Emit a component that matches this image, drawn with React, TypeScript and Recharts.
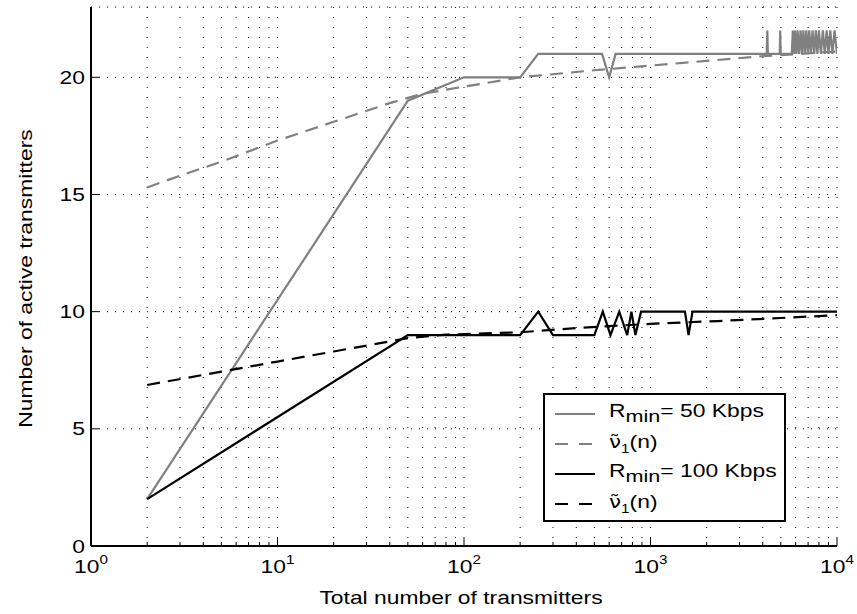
import React from 'react';
import { LineChart, Line, CartesianGrid, XAxis, YAxis, Legend } from 'recharts';

// values
const graySolidN = [2, 50, 100, 200, 250, 550, 600, 650, 4200, 4230, 4260, 4930, 4960, 4990,
  5720, 5800, 5870, 5950, 6050, 6150, 6250, 6380, 6480, 6600, 6720, 6850, 6980, 7100, 7250,
  7400, 7550, 7700, 7850, 8000, 8200, 8400, 8600, 8800, 9000, 9200, 9450, 9700, 10000];
const graySolidV = [2, 19, 20, 20, 21, 21, 20, 21, 21, 22, 21, 21, 22, 21,
  21, 22, 21, 22, 21, 22, 21, 22, 21, 22, 21, 22, 21, 22, 21,
  22, 21, 22, 21, 22, 21, 22, 21, 22, 21, 22, 21, 22, 21];

const grayDashN = [2, 3, 5, 10, 20, 40, 60, 100, 200, 500, 1000, 2000, 4000, 10000];
const grayDashV = [15.3, 15.8, 16.4, 17.3, 18.1, 18.9, 19.3, 19.6, 20.0, 20.3, 20.5, 20.7, 20.9, 21.1];

const blackSolidN = [2, 50, 200, 250, 300, 500, 555, 610, 680, 750, 790, 830, 890, 1530, 1600, 1680, 10000];
const blackSolidV = [2, 9, 9, 10, 9, 9, 10, 9, 10, 9, 10, 9, 10, 10, 9, 10, 10];

const blackDashN = [2, 5, 10, 20, 50, 80, 200, 400, 1000, 2300, 5000, 10000];
const blackDashV = [6.87, 7.44, 7.87, 8.3, 8.87, 9.02, 9.12, 9.3, 9.48, 9.6, 9.73, 9.85];

const xTicks = [1, 2, 3, 4, 5, 6, 7, 8, 9, 10, 20, 30, 40, 50, 60, 70, 80, 90, 100, 200, 300, 400, 500,
  600, 700, 800, 900, 1000, 2000, 3000, 4000, 5000, 6000, 7000, 8000, 9000, 10000];
const yTicks = [0, 5, 10, 15, 20];

const toRows = (ns: number[], vs: number[]) => ns.map((n, i) => ({ n, v: vs[i] }));
const graySolid = toRows(graySolidN, graySolidV);
const grayDash = toRows(grayDashN, grayDashV);
const blackSolid = toRows(blackSolidN, blackSolidV);
const blackDash = toRows(blackDashN, blackDashV);

const FONT = '"Liberation Sans", Arial, Helvetica, sans-serif';
const SX = 1.27;
const GRAY = '#808080';

const isMajor = (v: number) => Math.abs(Math.pow(10, Math.round(Math.log10(v))) - v) < 1e-6;

const BottomTick = (props: any) => {
  const { x, y, payload } = props;
  const v = payload.value;
  const major = isMajor(v);
  return (
    <g>
      <line x1={x} x2={x} y1={y} y2={y - (major ? 8 : 4)} stroke="#000" strokeWidth={1} />
      {major && (
        <text transform={`translate(${x},${y + 27}) scale(${SX},1)`} textAnchor="middle"
          fontFamily={FONT} fontSize={18} fill="#000">
          10<tspan dy={-9} fontSize={12}>{Math.round(Math.log10(v))}</tspan>
        </text>
      )}
    </g>
  );
};

const TopTick = (props: any) => {
  const { x, y, payload } = props;
  const major = isMajor(payload.value);
  return <line x1={x} x2={x} y1={y} y2={y + (major ? 8 : 4)} stroke="#000" strokeWidth={1} />;
};

const LeftTick = (props: any) => {
  const { x, y, payload } = props;
  return (
    <g>
      <line x1={x} x2={x + 8} y1={y} y2={y} stroke="#000" strokeWidth={1} />
      <text transform={`translate(${x - 6},${y + 6.5}) scale(${SX},1)`} textAnchor="end"
        fontFamily={FONT} fontSize={18} fill="#000">{payload.value}</text>
    </g>
  );
};

const RightTick = (props: any) => {
  const { x, y } = props;
  return <line x1={x} x2={x - 8} y1={y} y2={y} stroke="#000" strokeWidth={1} />;
};

const XLabel = (props: any) => {
  const { viewBox } = props;
  const cx = viewBox.x + viewBox.width / 2;
  return (
    <text transform={`translate(${cx - 3},${viewBox.y + 58}) scale(${SX},1)`} textAnchor="middle"
      fontFamily={FONT} fontSize={18} fill="#000">Total number of transmitters</text>
  );
};

const YLabel = (props: any) => {
  const { viewBox } = props;
  const cy = viewBox.y + viewBox.height / 2;
  return (
    <text transform={`translate(${viewBox.x + 32},${cy + 2}) rotate(-90) scale(${SX},1)`} textAnchor="middle"
      fontFamily={FONT} fontSize={18} fill="#000">Number of active transmitters</text>
  );
};

const legendItems = [
  { nu: false, sub: 'min', rest: '= 50 Kbps', color: GRAY, dash: false },
  { nu: true, sub: '1', rest: '(n)', color: GRAY, dash: true },
  { nu: false, sub: 'min', rest: '= 100 Kbps', color: '#000', dash: false },
  { nu: true, sub: '1', rest: '(n)', color: '#000', dash: true },
];

const LegendBox = () => (
  <div style={{ width: 243, height: 129, boxSizing: 'border-box', border: '2px solid #000', background: '#fff',
    paddingTop: 4, fontFamily: FONT, fontSize: 18, color: '#000' }}>
    {legendItems.map((it, i) => (
      <div key={i} style={{ height: 30, display: 'flex', alignItems: 'center' }}>
        <svg width={64} height={30} style={{ flex: 'none' }}>
          <line x1={10} x2={50} y1={15} y2={15} stroke={it.color} strokeWidth={2}
            strokeDasharray={it.dash ? '13 11' : undefined} />
        </svg>
        <span style={{ display: 'inline-block', transform: `scaleX(${SX})`, transformOrigin: 'left center', whiteSpace: 'nowrap' }}>
          {it.nu ? <span style={{ fontFamily: '"DejaVu Sans", sans-serif', fontSize: 17 }}>{'ν\u0303'}</span> : 'R'}
          <sub style={{ fontSize: it.nu ? 12 : 17 }}>{it.sub}</sub>{it.rest}
        </span>
      </div>
    ))}
  </div>
);

export default function App() {
  return (
    <div style={{ position: 'absolute', left: 0, top: 0, background: '#fff' }}>
      <LineChart width={857} height={614} margin={{ top: 7, right: 20, bottom: 0, left: 0 }}>
        <CartesianGrid xAxisId="bottom" yAxisId="left" horizontal={false} stroke="#000" strokeWidth={1}
          strokeDasharray="1 9" />
        <CartesianGrid xAxisId="bottom" yAxisId="left" vertical={false} stroke="#000" strokeWidth={1}
          strokeDasharray="1 7" />
        <XAxis xAxisId="bottom" dataKey="n" type="number" scale="log" domain={[1, 10000]} allowDataOverflow
          ticks={xTicks} interval={0} tickSize={0} tickMargin={0} tickLine={false} tick={<BottomTick />}
          height={68} stroke="#000" strokeWidth={2} label={<XLabel />} />
        <XAxis xAxisId="top" orientation="top" dataKey="n" type="number" scale="log" domain={[1, 10000]}
          allowDataOverflow ticks={xTicks} interval={0} tickSize={0} tickMargin={0} tickLine={false}
          tick={<TopTick />} height={0} stroke="#000" strokeWidth={2} />
        <YAxis yAxisId="left" type="number" domain={[0, 23]} allowDataOverflow ticks={yTicks} interval={0}
          tickSize={0} tickMargin={0} tickLine={false} tick={<LeftTick />} width={91} stroke="#000"
          strokeWidth={2} label={<YLabel />} />
        <YAxis yAxisId="right" orientation="right" type="number" domain={[0, 23]} allowDataOverflow
          ticks={yTicks} interval={0} tickSize={0} tickMargin={0} tickLine={false} tick={<RightTick />}
          width={0} stroke="#000" strokeWidth={2} />
        <Line xAxisId="bottom" yAxisId="left" data={graySolid} dataKey="v" type="linear" stroke={GRAY}
          strokeWidth={2.2} dot={false} isAnimationActive={false} />
        <Line xAxisId="bottom" yAxisId="left" data={grayDash} dataKey="v" type="linear" stroke={GRAY}
          strokeWidth={2.2} strokeDasharray="13 8" dot={false} isAnimationActive={false} />
        <Line xAxisId="bottom" yAxisId="left" data={blackSolid} dataKey="v" type="linear" stroke="#000"
          strokeWidth={2.2} dot={false} isAnimationActive={false} />
        <Line xAxisId="bottom" yAxisId="left" data={blackDash} dataKey="v" type="linear" stroke="#000"
          strokeWidth={2.2} strokeDasharray="13 8" dot={false} isAnimationActive={false} />
        <Legend layout="vertical" align="center" verticalAlign="middle" content={<LegendBox />}
          wrapperStyle={{ left: 543, top: 393, width: 243, height: 129, margin: 0 }} />
      </LineChart>
    </div>
  );
}
